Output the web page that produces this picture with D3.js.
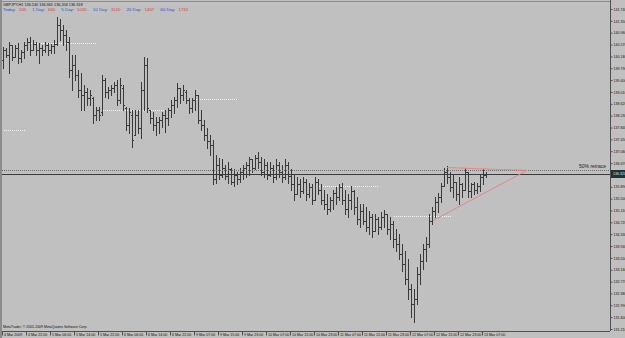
<!DOCTYPE html>
<html><head><meta charset="utf-8">
<script src="https://cdn.jsdelivr.net/npm/d3@7/dist/d3.min.js"></script>
<style>
html,body{margin:0;padding:0;background:#c0c0c0;overflow:hidden;}
svg{display:block;}
text{font-family:"Liberation Sans",Arial,sans-serif;}
</style></head><body>
<svg id="c" width="625" height="338"></svg>
<script>
// ---------------- data ----------------
const symbolLine = "GBPJPY,H1  136.240 136.365 136.206 136.318";
const rangeLabels = ["Today:", "1 Day:", "5 Day:", "10 Day:", "20 Day:", "60 Day:"];
const rangeValues = ["105", "660", "1020", "1140", "1467", "1732"];

const open = [140.07,140.39,140.23,140.56,140.16,140.46,140.13,140.33,140.56,140.66,140.39,140.59,140.39,140.46,140.39,140.56,140.39,140.53,140.59,141.21,141.05,140.89,140.66,139.74,139.90,139.57,139.08,138.92,139.02,138.82,138.82,138.26,138.43,138.36,139.41,139.02,139.08,139.15,139.25,138.75,139.15,138.49,137.93,138.26,137.61,138.26,137.84,139.08,139.90,138.43,138.16,137.93,138.03,138.10,138.26,138.16,138.43,138.59,138.75,139.15,138.92,139.02,138.75,138.49,138.75,138.92,138.10,137.93,137.61,137.38,137.28,136.13,136.62,136.29,136.52,136.23,136.46,136.06,136.29,136.13,136.39,136.52,136.62,136.79,136.52,136.85,136.72,136.39,136.62,136.29,136.52,136.20,136.62,136.39,136.20,136.62,136.23,135.97,135.64,135.97,135.74,136.06,135.64,135.87,135.47,136.06,135.80,135.47,135.31,135.15,135.47,135.70,135.54,135.87,135.47,135.15,135.47,135.74,135.21,134.82,135.08,134.75,134.55,134.88,134.42,134.82,134.55,134.88,134.98,134.49,134.65,134.16,134.00,133.67,133.34,132.85,132.52,132.03,132.19,133.01,133.44,133.83,134.00,134.75,135.08,135.38,135.54,135.90,136.39,136.20,135.87,136.06,135.64,135.97,135.80,136.39,135.74,135.97,135.80,135.90,136.20,136.29];
const high = [140.49,140.46,140.66,140.56,140.56,140.62,140.39,140.66,140.79,140.82,140.72,140.66,140.62,140.56,140.66,140.62,140.59,140.72,141.48,141.41,141.21,141.05,140.82,140.23,140.23,139.74,139.64,139.25,139.15,139.08,138.85,138.52,138.52,139.57,139.48,139.18,139.25,139.34,139.41,139.48,139.25,138.52,138.49,138.43,138.43,138.43,139.34,140.16,140.13,138.43,138.36,138.20,138.20,138.36,138.43,138.49,138.75,138.85,139.31,139.15,139.25,139.08,138.82,138.82,139.08,138.92,138.43,138.10,137.84,137.61,137.44,136.95,136.85,136.79,136.62,136.69,136.52,136.46,136.39,136.52,136.62,136.72,136.88,136.79,136.95,137.02,136.88,136.79,136.72,136.69,136.62,136.79,136.72,136.62,136.79,136.69,136.46,136.29,136.20,136.13,136.20,136.13,136.03,135.97,136.20,136.13,135.97,135.80,135.64,135.54,135.80,135.87,135.97,136.03,135.80,135.64,135.90,135.80,135.54,135.31,135.31,135.21,135.08,134.98,134.98,134.88,135.05,135.11,134.98,134.88,134.75,134.49,134.33,134.00,133.77,133.50,132.68,132.52,133.24,133.67,134.00,134.23,134.98,135.21,135.54,135.70,136.03,136.52,136.56,136.39,136.29,136.06,136.20,136.03,136.52,136.39,136.03,136.06,136.00,136.29,136.46,136.36];
const low = [139.80,140.16,139.64,140.07,140.16,139.97,140.00,140.13,140.39,140.23,140.39,140.23,139.97,140.23,140.33,140.23,140.30,140.30,140.56,140.72,140.56,140.39,139.51,139.08,139.41,138.85,138.43,138.43,138.59,138.59,138.00,138.10,138.10,138.26,138.85,138.82,138.92,139.02,138.59,138.66,138.43,137.77,137.67,137.21,137.61,137.67,137.51,138.43,138.36,138.00,137.77,137.61,137.67,137.87,137.70,137.93,138.20,138.33,138.52,138.66,138.75,138.66,138.33,138.36,138.43,138.00,137.77,137.44,137.18,136.95,135.97,136.03,136.13,136.20,136.13,136.03,135.97,135.90,135.97,136.06,136.13,136.20,136.29,136.39,136.46,136.52,136.29,136.20,136.13,136.23,136.06,136.13,136.20,136.06,136.13,136.03,135.80,135.47,135.64,135.54,135.70,135.47,135.54,135.31,135.47,135.64,135.31,135.15,134.98,135.08,135.15,135.31,135.47,135.31,134.98,134.88,135.15,134.98,134.65,134.55,134.65,134.42,134.33,134.23,134.42,134.33,134.49,134.55,134.33,134.16,133.90,133.77,133.50,133.11,132.68,132.19,131.60,131.44,132.03,132.68,133.18,133.44,133.90,134.65,134.88,135.05,135.38,135.90,136.03,135.74,135.57,135.47,135.31,135.54,135.80,135.54,135.57,135.64,135.67,135.74,135.97,136.20];
const close = [140.39,140.23,140.56,140.16,140.46,140.13,140.33,140.56,140.66,140.39,140.59,140.39,140.46,140.39,140.56,140.39,140.53,140.59,141.21,141.05,140.89,140.66,139.74,139.90,139.57,139.08,138.92,139.02,138.82,138.92,138.26,138.43,138.26,139.41,139.02,139.08,139.15,139.25,138.75,139.25,138.59,137.93,138.36,137.44,138.26,137.84,139.08,139.90,138.49,138.16,137.93,138.03,138.10,138.26,138.16,138.43,138.59,138.75,139.15,138.92,139.08,138.75,138.49,138.75,138.92,138.10,137.93,137.61,137.38,137.28,136.13,136.62,136.29,136.52,136.23,136.46,136.06,136.29,136.13,136.39,136.52,136.62,136.79,136.52,136.85,136.72,136.39,136.62,136.29,136.52,136.20,136.62,136.39,136.20,136.62,136.23,135.97,135.64,135.97,135.74,136.06,135.64,135.87,135.47,136.06,135.80,135.47,135.31,135.15,135.47,135.70,135.54,135.87,135.47,135.15,135.47,135.74,135.21,134.82,135.08,134.75,134.55,134.88,134.42,134.82,134.55,134.88,134.98,134.49,134.65,134.16,134.00,133.67,133.34,132.85,132.52,132.03,132.19,133.01,133.44,133.83,134.00,134.75,135.08,135.38,135.54,135.90,136.39,136.20,135.87,136.06,135.64,135.97,135.80,136.39,135.74,135.97,135.80,135.90,136.20,136.29,136.32];

const timeTickIndex = [0,8,16,24,32,40,48,56,64,72,80,88,96,104,112,120,128,136,144,152,160];
const timeTickLabels = ["4 Mar 2009","4 Mar 22:00","5 Mar 06:00","5 Mar 14:00","5 Mar 22:00","6 Mar 06:00","6 Mar 14:00","6 Mar 22:00","9 Mar 07:00","9 Mar 15:00","9 Mar 23:00","10 Mar 07:00","10 Mar 15:00","10 Mar 23:00","11 Mar 07:00","11 Mar 15:00","11 Mar 23:00","12 Mar 07:00","12 Mar 15:00","12 Mar 23:00","13 Mar 07:00"];
const priceTicks = [141.740,141.350,140.960,140.570,140.180,139.790,139.400,139.010,138.620,138.230,137.840,137.450,137.060,136.670,136.280,135.890,135.500,135.110,134.720,134.330,133.940,133.550,133.160,132.770,132.380,131.990,131.600,131.210];

// short dotted level lines: price, start bar, end bar
const levelPrice = [140.62, 137.77, 138.43, 138.79, 135.90, 134.92];
const levelStart = [9, 0, 33, 64, 105, 130];
const levelEnd   = [31, 7, 54, 78, 125, 149];

const retraceLevel = 136.45;
const retraceLabel = "50% retrace";

// triangle trend lines (bar index, price)
const triLowerIdx = [143.2, 174.5], triLowerPrice = [134.78, 136.43];
const triUpperIdx = [147.8, 174.5], triUpperPrice = [136.52, 136.43];

const copyright = "MetaTrader, \u00a9 2001-2009 MetaQuotes Software Corp.";

// ---------------- chart ----------------
const svg = d3.select("#c");
const P = {left: 2, right: 610, top: 2, bottom: 331};
const BG = "#c0c0c0", FG = "#3a3a3a";

svg.append("rect").attr("width", 625).attr("height", 338).attr("fill", BG);

const x = d3.scaleLinear().domain([-0.5, (P.right - P.left) / 3 - 0.5]).range([P.left, P.right]);
const y = d3.scaleLinear().domain([131.21, 141.74]).range([329, 9]);

// frame
svg.append("rect").attr("x", 0).attr("y", 0).attr("width", 2).attr("height", 338).attr("fill", "#8c8c8c");
svg.append("line").attr("x1", 0).attr("x2", P.right).attr("y1", 1.5).attr("y2", 1.5).attr("stroke", "#8c8c8c");

svg.append("defs").append("clipPath").attr("id", "pc")
  .append("rect").attr("x", P.left).attr("y", P.top).attr("width", P.right - P.left).attr("height", P.bottom - P.top);
const plot = svg.append("g").attr("clip-path", "url(#pc)");

// dotted level lines
plot.append("g").selectAll("line").data(levelPrice).join("line")
  .attr("x1", (d, k) => x(levelStart[k])).attr("x2", (d, k) => x(levelEnd[k]))
  .attr("y1", d => Math.round(y(d)) + 0.5).attr("y2", d => Math.round(y(d)) + 0.5)
  .attr("stroke", "#f4f4f4").attr("stroke-dasharray", "1,1").attr("shape-rendering", "crispEdges");

// bars
const bars = d3.range(open.length).map(i => ({i, o: open[i], h: high[i], l: low[i], c: close[i]}));
const gb = plot.append("g").attr("fill", FG).attr("shape-rendering", "crispEdges");
gb.selectAll("rect.v").data(bars).join("rect").attr("class", "v")
  .attr("x", d => Math.floor(x(d.i))).attr("width", 1)
  .attr("y", d => Math.round(y(d.h)))
  .attr("height", d => Math.max(1, Math.round(y(d.l)) - Math.round(y(d.h)) + 1));
gb.selectAll("rect.o").data(bars).join("rect").attr("class", "o")
  .attr("x", d => Math.floor(x(d.i)) - 1).attr("width", 1)
  .attr("y", d => Math.round(y(d.o))).attr("height", 1);
gb.selectAll("rect.c").data(bars).join("rect").attr("class", "c")
  .attr("x", d => Math.floor(x(d.i)) + 1).attr("width", 1)
  .attr("y", d => Math.round(y(d.c))).attr("height", 1);

// retrace and bid lines
const lastClose = close[close.length - 1];
plot.append("line").attr("x1", P.left).attr("x2", P.right)
  .attr("y1", Math.round(y(retraceLevel)) + 0.5).attr("y2", Math.round(y(retraceLevel)) + 0.5)
  .attr("stroke", "#6a6a6a").attr("stroke-dasharray", "1,1").attr("shape-rendering", "crispEdges");
plot.append("line").attr("x1", P.left).attr("x2", P.right)
  .attr("y1", Math.round(y(lastClose)) + 0.5).attr("y2", Math.round(y(lastClose)) + 0.5)
  .attr("stroke", "#3a3a3a").attr("shape-rendering", "crispEdges");
svg.append("text").attr("x", 606).attr("y", Math.round(y(retraceLevel)) - 2)
  .attr("text-anchor", "end").attr("font-size", 5).attr("fill", "#202020").text(retraceLabel);

// triangle
const line = d3.line().x(d => x(d[0])).y(d => y(d[1]));
plot.append("path").attr("d", line(triLowerIdx.map((v, k) => [v, triLowerPrice[k]])))
  .attr("fill", "none").attr("stroke", "#e08888").attr("stroke-width", 1);
plot.append("path").attr("d", line(triUpperIdx.map((v, k) => [v, triUpperPrice[k]])))
  .attr("fill", "none").attr("stroke", "#e08888").attr("stroke-width", 1);

// right price axis
const yAxis = d3.axisRight(y).tickValues(priceTicks).tickFormat(d3.format(".3f")).tickSize(2).tickPadding(1);
const ga = svg.append("g").attr("transform", `translate(${P.right + 0.5},0)`).call(yAxis);
ga.select(".domain").attr("d", `M0,0V${P.bottom}`).attr("stroke", "#505050");
ga.selectAll(".tick line").attr("stroke", "#505050");
ga.selectAll(".tick text").attr("font-size", 3.6).attr("fill", "#101010").attr("font-family", "Liberation Sans");

// current price box
const by = Math.round(y(lastClose));
svg.append("rect").attr("x", 611).attr("y", by - 4).attr("width", 14).attr("height", 8).attr("fill", "#1f3434");
svg.append("text").attr("x", 613).attr("y", by + 1.2).attr("font-size", 3.6).attr("fill", "#d8e8e8")
  .text(d3.format(".3f")(lastClose));

// bottom time axis
const xAxis = d3.axisBottom(x).tickValues(timeTickIndex).tickFormat((d, k) => timeTickLabels[k]).tickSize(4).tickPadding(0);
const gx = svg.append("g").attr("transform", `translate(-1.5,${P.bottom + 0.5})`).call(xAxis);
gx.select(".domain").attr("d", `M${P.left + 1.5},0H${P.right + 1.5}`).attr("stroke", "#505050");
gx.selectAll(".tick line").attr("stroke", "#505050");
gx.selectAll(".tick text").attr("text-anchor", "start").attr("x", 1.5).attr("y", 2.2)
  .attr("font-size", 3.6).attr("fill", "#101010").attr("font-family", "Liberation Sans");

// header
svg.append("text").attr("x", 3).attr("y", 5.5).attr("font-size", 3.8).attr("fill", "#101010").text(symbolLine);
const hdr = svg.append("text").attr("x", 3).attr("y", 11).attr("font-size", 4.4);
rangeLabels.forEach((lab, k) => {
  hdr.append("tspan").attr("fill", "#2c4fd0").attr("dx", k ? 6 : 0).text(lab);
  hdr.append("tspan").attr("fill", "#d04030").attr("dx", 3).text(rangeValues[k]);
});

svg.append("text").attr("x", 3).attr("y", 328).attr("font-size", 3.5).attr("fill", "#101010").text(copyright);
</script>
</body></html>
